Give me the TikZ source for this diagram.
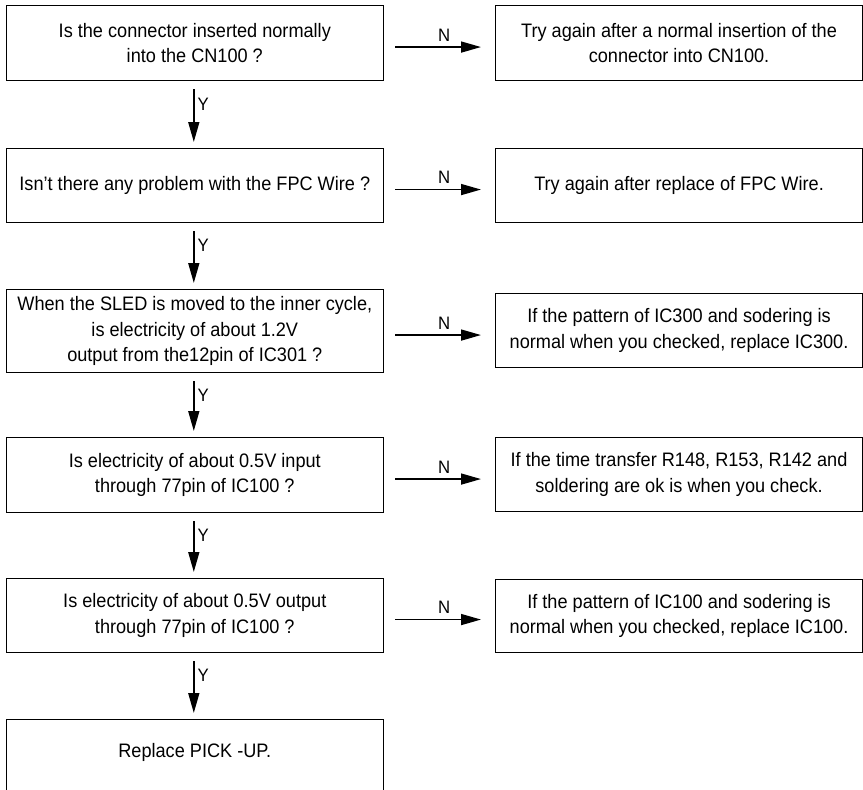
\documentclass[tikz,border=0pt]{standalone}
\usepackage{fontspec}
\setmainfont{Liberation Sans}[FakeStretch=0.93]
\usetikzlibrary{arrows.meta}
\begin{document}
\begin{tikzpicture}[x=1pt,y=-1pt,
  txt/.style={font=\fontsize{19.5}{25.5}\selectfont},
  lbox/.style={draw, line width=1.1pt, anchor=north west, minimum width=377.5pt,
    align=center, inner sep=0pt, txt},
  rbox/.style={draw, line width=1.1pt, anchor=north west, minimum width=367pt,
    align=center, inner sep=0pt, txt},
  arr/.style={line width=1.5pt, -{Triangle[length=20pt,width=11pt]}},
  lab/.style={font=\fontsize{18}{20}\selectfont, inner sep=2pt}]
\useasboundingbox (0,0) rectangle (863,790);

\node[lbox, minimum height=75pt] (L1) at (5.5,5) {Is the connector inserted normally\\into the CN100 ?};
\node[lbox, minimum height=74pt] (L2) at (5.5,148) {Isn’t there any problem with the FPC Wire ?};
\node[lbox, minimum height=83pt] (L3) at (5.5,289) {When the SLED is moved to the inner cycle,\\is electricity of about 1.2V\\output from the12pin of IC301 ?};
\node[lbox, minimum height=75pt] (L4) at (5.5,437) {Is electricity of about 0.5V input\\through 77pin of IC100 ?};
\node[lbox, minimum height=74pt] (L5) at (5.5,578) {Is electricity of about 0.5V output\\through 77pin of IC100 ?};
\node[lbox, minimum height=76pt] (L6) at (5.5,719) {};
\node[txt] (L6t) at ([yshift=-33pt]L6.north) {Replace PICK -UP.};

\node[rbox, minimum height=75pt] (R1) at (495,5) {Try again after a normal insertion of the\\connector into CN100.};
\node[rbox, minimum height=74pt] (R2) at (495,148) {Try again after replace of FPC Wire.};
\node[rbox, minimum height=74pt] (R3) at (495,293) {If the pattern of IC300 and sodering is\\normal when you checked, replace IC300.};
\node[rbox, minimum height=74pt] (R4) at (495,437) {If the time transfer R148, R153, R142 and\\soldering are ok is when you check.};
\node[rbox, minimum height=73pt] (R5) at (495,579) {If the pattern of IC100 and sodering is\\normal when you checked, replace IC100.};

\foreach \a/\b in {L1/L2,L2/L3,L3/L4,L4/L5,L5/L6}{
  \draw[arr] ([xshift=-1pt,yshift=-8pt]\a.south) -- node[lab, pos=0.28, right=1pt]{Y} ([xshift=-1pt,yshift=6pt]\b.north);
}
\foreach \a/\b in {L1/R1,L2/R2,L3/R3,L4/R4,L5/R5}{
  \draw[arr] ([xshift=11pt,yshift=-4pt]\a.east) coordinate (s) -- node[lab, pos=0.57, above=3pt]{N} ([xshift=-14pt]\b.west |- s);
}
\end{tikzpicture}
\end{document}
